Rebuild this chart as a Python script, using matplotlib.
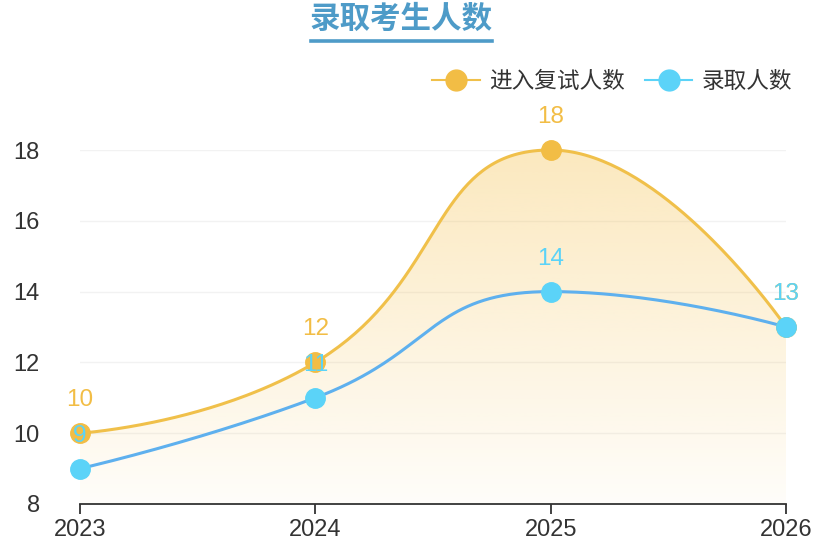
import matplotlib
matplotlib.use('Agg')
import matplotlib.pyplot as plt
import numpy as np
from matplotlib.lines import Line2D
from matplotlib.path import Path
from matplotlib.patches import PathPatch
import matplotlib.colors as mcolors

# data
years = ['2023', '2024', '2025', '2026']
retest = [10, 12, 18, 13]      # 进入复试人数
admitted = [9, 11, 14, 13]     # 录取人数
y_ticks = [8, 10, 12, 14, 16, 18]
series_names = ['进入复试人数', '录取人数']

plt.rcParams['font.family'] = ['Liberation Sans', 'Noto Sans CJK SC', 'DejaVu Sans']

yellow = '#f2bd45'
yellow_line = '#f0c04a'
blue_line = '#5eb0ee'
cyan = '#5bd3f8'
text_c = '#333333'

fig = plt.figure(figsize=(8.3, 5.54), dpi=100)
ax = fig.add_axes([80/830, 50/554, 706/830, 354/554])
x = np.arange(len(years))
ax.set_xlim(0, len(years) - 1)
ax.set_ylim(y_ticks[0], y_ticks[-1])


def smooth_curve(xs, ys, smooth=0.5, n=80):
    # echarts-like bezier smoothing, done in pixel space
    pts = ax.transData.transform(np.column_stack([xs, ys]))
    out = [pts[0]]
    cp0 = pts[0]
    for i in range(1, len(pts)):
        px, py = pts[i]
        if i < len(pts) - 1:
            qx, qy = pts[i - 1]
            nx, ny = pts[i + 1]
            vx, vy = nx - qx, ny - qy
            d0 = np.hypot(px - qx, py - qy)
            d1 = np.hypot(nx - px, ny - py)
            r = d1 / (d0 + d1)
            ncx, ncy = px + vx * smooth * r, py + vy * smooth * r
            ncx = max(min(ncx, max(nx, px)), min(nx, px))
            ncy = max(min(ncy, max(ny, py)), min(ny, py))
            vx, vy = ncx - px, ncy - py
            c1x, c1y = px - vx * d0 / d1, py - vy * d0 / d1
            c1x = max(min(c1x, max(qx, px)), min(qx, px))
            c1y = max(min(c1y, max(qy, py)), min(qy, py))
            vx, vy = px - c1x, py - c1y
            ncx, ncy = px + vx * d1 / d0, py + vy * d1 / d0
        else:
            c1x, c1y = px, py
            ncx, ncy = px, py
        p0 = pts[i - 1]
        t = np.linspace(0, 1, n)[1:, None]
        seg = ((1 - t) ** 3 * p0 + 3 * (1 - t) ** 2 * t * np.array(cp0)
               + 3 * (1 - t) * t ** 2 * np.array([c1x, c1y]) + t ** 3 * np.array([px, py]))
        out.extend(seg)
        cp0 = (ncx, ncy)
    out = ax.transData.inverted().transform(np.array(out))
    return out[:, 0], out[:, 1]


cx1, cy1 = smooth_curve(x, retest)
cx2, cy2 = smooth_curve(x, admitted)

# gradient area under the first series
verts = list(zip(cx1, cy1)) + [(x[-1], y_ticks[0]), (x[0], y_ticks[0])]
poly = PathPatch(Path(verts + [verts[0]], closed=True), facecolor='none', edgecolor='none')
ax.add_patch(poly)
rgb = mcolors.to_rgb('#f5bd42')
grad = np.zeros((256, 1, 4))
grad[:, 0, :3] = rgb
grad[:, 0, 3] = np.linspace(0.34, 0.03, 256)
im = ax.imshow(grad, extent=[x[0], x[-1], y_ticks[0], max(retest)], aspect='auto',
               origin='upper', zorder=1, interpolation='bilinear')
im.set_clip_path(poly)

ax.plot(cx1, cy1, color=yellow_line, lw=2.2, zorder=2, solid_capstyle='round', clip_on=False)
ax.plot(cx2, cy2, color=blue_line, lw=2.2, zorder=3, solid_capstyle='round', clip_on=False)
ax.plot(x, retest, 'o', ms=14, color=yellow, zorder=4, clip_on=False)
ax.plot(x, admitted, 'o', ms=14, color=cyan, zorder=6, clip_on=False)

for xi, v in zip(x, retest):
    ax.annotate(str(v), (xi, v), xytext=(0, 19.5), textcoords='offset points',
                ha='center', va='baseline', fontsize=17.5, color=yellow, zorder=5,
                annotation_clip=False)
for xi, v in zip(x, admitted):
    ax.annotate(str(v), (xi, v), xytext=(0, 19.5), textcoords='offset points',
                ha='center', va='baseline', fontsize=17.5, color=cyan, zorder=7,
                annotation_clip=False)

# axes styling
ax.set_xticks(x)
ax.set_xticklabels(years)
ax.set_yticks(y_ticks)
ax.grid(axis='y', color='#f2f2f2', lw=1, zorder=0)
ax.set_axisbelow(True)
for s in ['left', 'top', 'right']:
    ax.spines[s].set_visible(False)
ax.spines['bottom'].set_color(text_c)
ax.spines['bottom'].set_linewidth(1.3)
ax.spines['bottom'].set_zorder(1.5)
ax.tick_params(axis='x', direction='out', length=7, width=1.3, color=text_c,
               labelsize=17, labelcolor=text_c, pad=4)
ax.tick_params(axis='y', length=0, labelsize=17, labelcolor=text_c, pad=29)

# legend
handles = [
    Line2D([], [], color=yellow_line, lw=1.5, marker='o', ms=15, markerfacecolor=yellow,
           markeredgecolor=yellow),
    Line2D([], [], color=cyan, lw=1.5, marker='o', ms=15, markerfacecolor=cyan,
           markeredgecolor=cyan),
]
fig.legend(handles, series_names, loc='center right', bbox_to_anchor=(792/830, 1 - 81/554),
           ncol=2, frameon=False, handlelength=2.1, handletextpad=0.4,
           columnspacing=0.9, borderpad=0, borderaxespad=0, labelcolor=text_c,
           prop={'family': ['Noto Sans CJK SC'], 'size': 16.3})

# title with underline
title_c = '#4e9bc8'
fig.text(401/830, 1 - 19/554, '录取考生人数', ha='center', va='center', fontsize=22,
         fontweight='bold', color=title_c, family=['Noto Sans CJK SC'])
fig.add_artist(Line2D([311/830, 492/830], [1 - 41/554, 1 - 41/554], color=title_c, lw=2.6,
                      transform=fig.transFigure))

fig.savefig('out.png', dpi=100)
